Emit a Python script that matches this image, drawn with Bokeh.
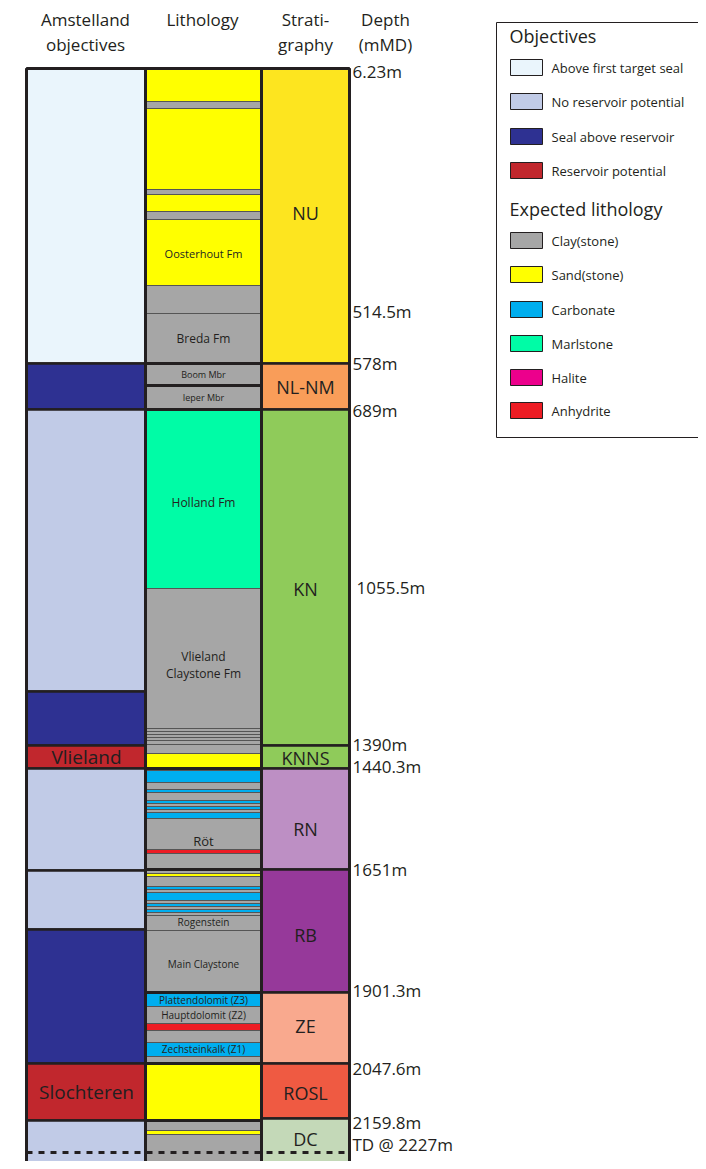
from bokeh.plotting import figure
from bokeh.models import Range1d
from bokeh.embed import file_html
from bokeh.resources import INLINE
from bokeh.core.properties import value

F = value("Open Sans")
# column x extents (chart units)
obj_x = (26, 145); lit_x = (145, 261); str_x = (261, 349)

# Objectives column: top, bottom, class
obj_top = [68, 363, 409, 691, 745, 768, 870, 929, 1063, 1120]
obj_bot = [363, 409, 691, 745, 768, 870, 929, 1063, 1120, 1175]
obj_cls = ["above", "seal", "none", "seal", "res", "none", "none", "seal", "res", "none"]
obj_lab = ["", "", "", "", "Vlieland", "", "", "", "Slochteren", ""]
obj_col = {"above": "#eaf5fc", "none": "#c1cbe7", "seal": "#2e3192", "res": "#c1272d"}

# Stratigraphy column
str_top = [68, 363, 409, 745, 768, 869, 992, 1063, 1118]
str_bot = [363, 409, 745, 768, 869, 992, 1063, 1118, 1175]
str_lab = ["NU", "NL-NM", "KN", "KNNS", "RN", "RB", "ZE", "ROSL", "DC"]
str_col = ["#fde51f", "#f99d59", "#8fcb5a", "#8fcb5a", "#bd8fc4", "#96399a", "#f9a98e", "#ef5a42", "#c4d9b8"]
str_laby = [212, 386, 588, 757, 828, 934, 1025, 1092, 1138]

# Lithology column
lit_top = [68, 101, 108, 189, 194, 211, 219, 285, 313, 363, 385, 409, 588, 728, 731, 734, 737, 740, 744, 753, 768, 770, 782, 789, 792, 800, 803, 806, 809, 812, 818, 849, 853,
           869, 873, 876, 886, 889, 892, 900, 903, 906, 909, 912, 915, 930, 992, 1006, 1023, 1030, 1042, 1056, 1063, 1120, 1130, 1134]
lit_bot = lit_top[1:] + [1175]
lit_cls = ["sand", "clay", "sand", "clay", "sand", "clay", "sand", "clay", "clay", "clay", "clay", "marl", "clay", "clay", "clay", "clay", "clay", "clay", "clay", "sand", "clay", "carb", "clay", "carb", "clay", "carb", "clay", "carb", "clay", "carb", "clay", "anhy", "clay",
           "clay", "sand", "clay", "carb", "clay", "carb", "clay", "carb", "clay", "carb", "clay", "clay", "clay", "carb", "clay", "anhy", "clay", "carb", "clay", "sand", "clay", "sand", "clay"]
lit_col = {"clay": "#a6a6a6", "sand": "#ffff00", "carb": "#00aeef", "marl": "#00fca6", "hal": "#ec008c", "anhy": "#ed1c24"}
lit_labels = ["Oosterhout Fm", "Breda Fm", "Boom Mbr", "Ieper Mbr", "Holland Fm", "Vlieland\nClaystone Fm", "Röt", "Rogenstein", "Main Claystone",
              "Plattendolomit (Z3)", "Hauptdolomit (Z2)", "Zechsteinkalk (Z1)"]
lit_laby = [253, 338, 374, 397, 502, 664, 840, 921, 963, 999, 1014, 1048]
lit_labsz = ["11px", "12px", "9px", "9px", "12px", "12px", "13px", "10px", "10px", "10px", "10px", "10px"]

# Depth markers
depth_lab = ["6.23m", "514.5m", "578m", "689m", "1055.5m", "1390m", "1440.3m", "1651m", "1901.3m", "2047.6m", "2159.8m", "TD @ 2227m"]
depth_y = [71, 311, 363, 410, 587, 744, 766, 869, 990, 1068, 1122, 1144]
depth_x = [352, 352, 352, 352, 356, 352, 352, 352, 352, 352, 352, 352]
td_y = 1152

headers = ["Amstelland\nobjectives", "Lithology", "Strati-\ngraphy", "Depth\n(mMD)"]
header_x = [85, 202, 305, 385]

leg_obj = ["Above first target seal", "No reservoir potential", "Seal above reservoir", "Reservoir potential"]
leg_obj_c = ["above", "none", "seal", "res"]
leg_lit = ["Clay(stone)", "Sand(stone)", "Carbonate", "Marlstone", "Halite", "Anhydrite"]
leg_lit_c = ["clay", "sand", "carb", "marl", "hal", "anhy"]

p = figure(width=698, height=1161, x_range=Range1d(0, 698), y_range=Range1d(1161, 0),
           output_backend="svg", toolbar_location=None, min_border=0)
p.axis.visible = False
p.grid.visible = False
p.outline_line_color = None

edge = "#231f20"
p.quad(left=obj_x[0], right=obj_x[1], top=obj_top, bottom=obj_bot,
       fill_color=[obj_col[c] for c in obj_cls], line_color=edge, line_width=2.5)
p.quad(left=lit_x[0], right=lit_x[1], top=lit_top, bottom=lit_bot,
       fill_color=[lit_col[c] for c in lit_cls], line_color="#555555", line_width=1)
p.quad(left=str_x[0], right=str_x[1], top=str_top, bottom=str_bot,
       fill_color=str_col, line_color=edge, line_width=2.5)
# major lithology boundaries
for yb in [363, 385, 409, 768, 869, 992, 1063, 1120]:
    p.line([lit_x[0], lit_x[1]], [yb, yb], line_color=edge, line_width=3)
# frame
p.line([obj_x[0], str_x[1]], [68, 68], line_color=edge, line_width=3)
for xx in [obj_x[0], lit_x[0], lit_x[1], str_x[1]]:
    p.line([xx, xx], [68, 1175], line_color=edge, line_width=3)
p.line([obj_x[0], str_x[1]], [td_y, td_y], line_color=edge, line_width=3, line_dash="6 6")

for lab, c, y in zip(obj_lab, obj_cls, [(a + b) / 2 for a, b in zip(obj_top, obj_bot)]):
    if lab:
        p.text(x=[86], y=[y], text=[lab], text_font=F, text_font_size="19px", text_color="#231f20",
               text_align="center", text_baseline="middle")
p.text(x=[305] * len(str_lab), y=str_laby, text=str_lab, text_font=F, text_font_size="18px",
       text_color="#231f20", text_align="center", text_baseline="middle")
for lab, y, sz in zip(lit_labels, lit_laby, lit_labsz):
    p.text(x=[203], y=[y], text=[lab], text_font=F, text_font_size=sz, text_color="#231f20",
           text_align="center", text_baseline="middle", text_line_height=1.0)
p.text(x=depth_x, y=depth_y, text=depth_lab, text_font=F, text_font_size="17px",
       text_color="#231f20", text_align="left", text_baseline="middle")
p.text(x=header_x, y=[7] * 4, text=headers, text_font=F, text_font_size="17px", text_color="#231f20",
       text_align="center", text_baseline="top", text_line_height=1.1)

# legend
p.quad(left=[496], right=[720], top=[22], bottom=[437], fill_color="white", line_color=edge, line_width=1)
p.text(x=[509], y=[35], text=["Objectives"], text_font=F, text_font_size="18px", text_color="#231f20", text_baseline="middle")
p.text(x=[509], y=[208], text=["Expected lithology"], text_font=F, text_font_size="18px", text_color="#231f20", text_baseline="middle")
ly1 = [67, 101, 136, 170]
ly2 = [240, 274, 309, 343, 377, 410]
p.quad(left=510, right=542, top=[y - 8 for y in ly1], bottom=[y + 8 for y in ly1],
       fill_color=[obj_col[c] for c in leg_obj_c], line_color=edge, line_width=1)
p.quad(left=510, right=542, top=[y - 8 for y in ly2], bottom=[y + 8 for y in ly2],
       fill_color=[lit_col[c] for c in leg_lit_c], line_color=edge, line_width=1)
p.text(x=[551] * 4, y=ly1, text=leg_obj, text_font=F, text_font_size="13px", text_color="#231f20", text_baseline="middle")
p.text(x=[551] * 6, y=ly2, text=leg_lit, text_font=F, text_font_size="13px", text_color="#231f20", text_baseline="middle")

open("out.html", "w").write(file_html(p, INLINE))
